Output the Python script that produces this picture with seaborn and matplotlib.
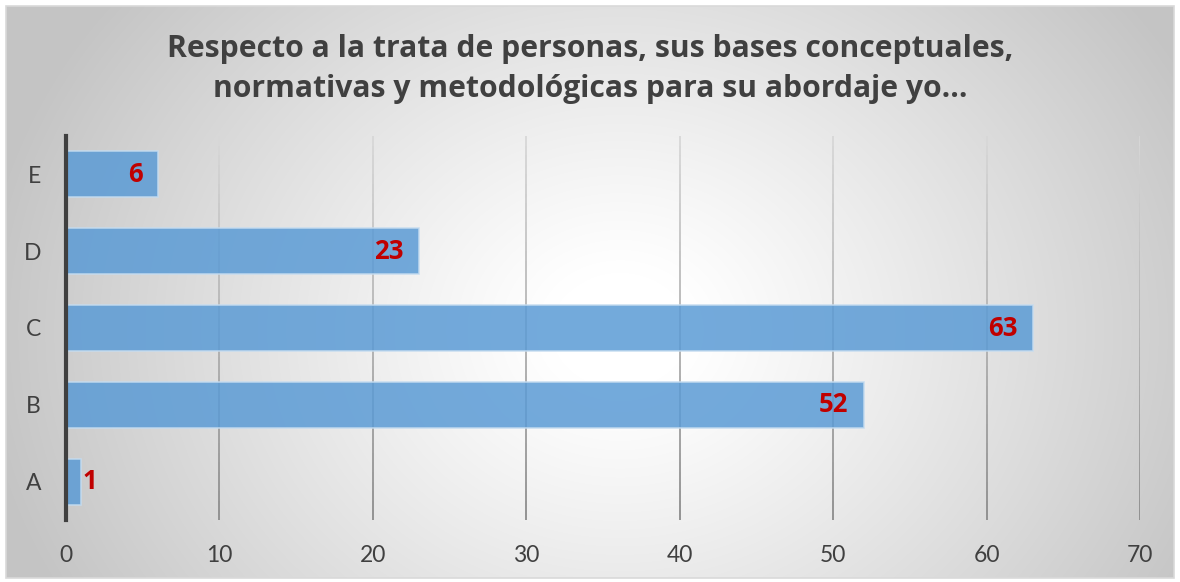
import numpy as np
import matplotlib
matplotlib.use("Agg")
import matplotlib.pyplot as plt
import seaborn as sns
import pandas as pd
from matplotlib.collections import LineCollection

categories = ["E", "D", "C", "B", "A"]
values = [6, 23, 63, 52, 1]
xticks = [0, 10, 20, 30, 40, 50, 60, 70]
title = "Respecto a la trata de personas, sus bases conceptuales,\nnormativas y metodológicas para su abordaje yo..."

sns.set_theme(style="white")
plt.rcParams['font.family'] = ['Lato', 'DejaVu Sans']

W, H = 1180, 582
fig = plt.figure(figsize=(W / 100, H / 100), dpi=100)

# background gradient
bg = fig.add_axes([0, 0, 1, 1], zorder=0)
bg.set_xlim(0, W)
bg.set_ylim(H, 0)
bg.axis("off")
yy, xx = np.mgrid[0:H, 0:W]
cx, cy = 620, 330
r = np.sqrt(((xx - cx) / 1.0) ** 2 + ((yy - cy) / 0.85) ** 2)
g = 1 - 0.23 * np.clip((r - 70) / 580, 0, 1) ** 1.1
img = np.dstack([g, g, g])
bg.imshow(img, extent=[6, W - 6, H - 4, 6], aspect="auto", zorder=0)
bg.add_patch(plt.Rectangle((6, 6), W - 12, H - 10, fill=False, edgecolor="#d9d9d9", lw=1.2, zorder=1))

df = pd.DataFrame({"cat": categories, "val": values})

ax = fig.add_axes([66 / W, 1 - 520 / H, 1074 / W, 384 / H], zorder=1)
ax.set_facecolor("none")
sns.barplot(data=df, x="val", y="cat", order=categories, orient="h",
            color="#5b9bd5", alpha=0.85, width=0.6, edgecolor="#c5dcf0",
            linewidth=1.2, saturation=1, ax=ax, zorder=3)
ax.set_xlim(0, 70)
ax.set_ylim(len(categories) - 0.5, -0.5)
ax.set_xticks(xticks)
ax.set_xlabel("")
ax.set_ylabel("")

# gradient gridlines
for xv in xticks[1:]:
    n = 40
    ys = np.linspace(len(categories) - 0.5, -0.5, n + 1)
    segs = [[(xv, ys[i]), (xv, ys[i + 1])] for i in range(n)]
    cols = [(0.55 + 0.3 * i / n,) * 3 for i in range(n)]
    lc = LineCollection(segs, colors=cols, linewidths=1.3, zorder=1)
    ax.add_collection(lc)

for s in ["top", "right", "bottom"]:
    ax.spines[s].set_visible(False)
ax.spines["left"].set_color("#404040")
ax.spines["left"].set_linewidth(3)
ax.spines["left"].set_zorder(5)
ax.tick_params(axis="both", length=0, labelsize=16.5, colors="#404040")
ax.tick_params(axis="x", pad=18)
ax.tick_params(axis="y", pad=18)

for i, v in enumerate(values):
    if v >= 3:
        ax.text(v - 1.0, i, str(v), ha="right", va="center", color="#c00000",
                fontsize=18.5, fontweight="bold", family=["Open Sans", "DejaVu Sans"], zorder=6)
    else:
        ax.text(v + 0.1, i, str(v), ha="left", va="center", color="#c00000",
                fontsize=18.5, fontweight="bold", family=["Open Sans", "DejaVu Sans"], zorder=6)

fig.text(0.5, 1 - 69 / H, title, ha="center", va="center", fontsize=21.7,
         fontweight="bold", color="#404040", linespacing=1.4,
         family=["Open Sans", "DejaVu Sans"], zorder=2)

fig.savefig("out.png", dpi=100)
